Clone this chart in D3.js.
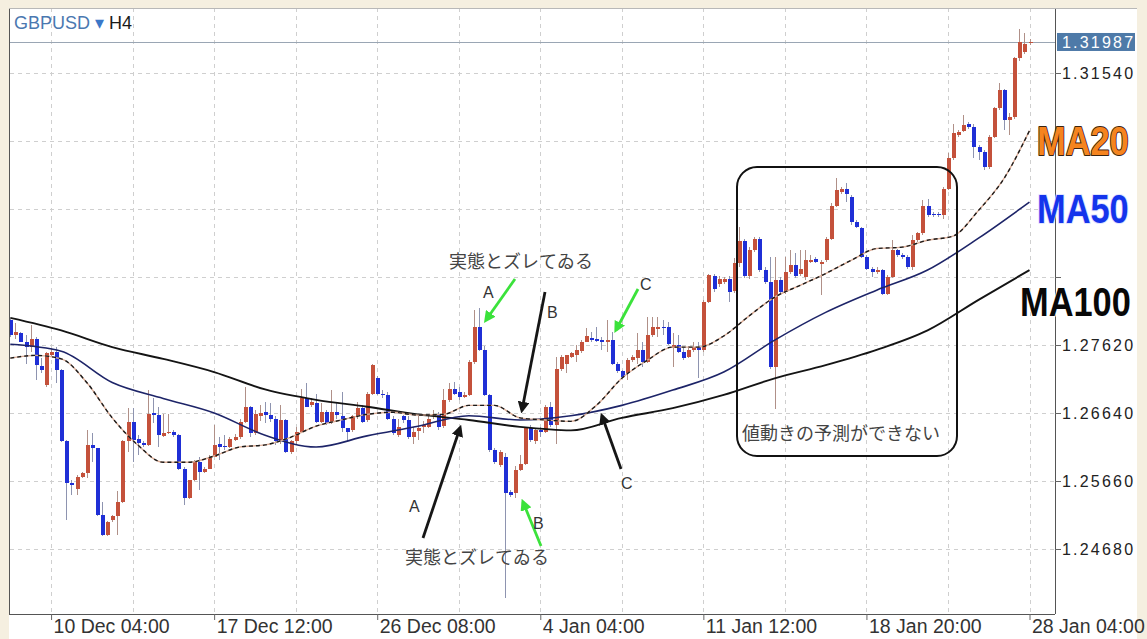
<!DOCTYPE html>
<html>
<head>
<meta charset="utf-8">
<script src="https://d3js.org/d3.v7.min.js"></script>
<style>
  html, body { margin: 0; padding: 0; background: #f5efe0; }
  svg { display: block; }
</style>
</head>
<body>
<div id="chart"></div>
<script>
// GBPUSD H4 candles (bar 0 = left edge)
const opens = [1.2798,1.2777,1.2779,1.2767,1.2759,1.2771,1.2732,1.2704,1.2747,1.2752,1.2726,1.2623,1.2563,1.2555,1.2572,1.2577,1.2618,1.2613,1.2517,1.2488,1.2510,1.2515,1.2536,1.2623,1.2651,1.2626,1.2621,1.2618,1.2664,1.2661,1.2631,1.2635,1.2637,1.2632,1.2584,1.2541,1.2567,1.2594,1.2579,1.2584,1.2601,1.2620,1.2617,1.2615,1.2625,1.2630,1.2651,1.2673,1.2635,1.2660,1.2666,1.2661,1.2656,1.2623,1.2654,1.2608,1.2623,1.2637,1.2685,1.2675,1.2678,1.2651,1.2666,1.2651,1.2666,1.2659,1.2642,1.2639,1.2659,1.2671,1.2654,1.2692,1.2715,1.2692,1.2690,1.2656,1.2632,1.2659,1.2654,1.2630,1.2638,1.2644,1.2644,1.2659,1.2663,1.2645,1.2683,1.2699,1.2694,1.2687,1.2690,1.2738,1.2788,1.2755,1.2690,1.2611,1.2589,1.2601,1.2550,1.2548,1.2582,1.2591,1.2642,1.2623,1.2639,1.2637,1.2673,1.2647,1.2728,1.2735,1.2745,1.2748,1.2754,1.2767,1.2772,1.2771,1.2769,1.2767,1.2769,1.2735,1.2724,1.2721,1.2740,1.2743,1.2755,1.2738,1.2776,1.2785,1.2788,1.2788,1.2757,1.2762,1.2752,1.2745,1.2755,1.2759,1.2755,1.2824,1.2862,1.2850,1.2853,1.2857,1.2840,1.2880,1.2912,1.2862,1.2899,1.2915,1.2870,1.2853,1.2730,1.2855,1.2838,1.2867,1.2877,1.2865,1.2860,1.2882,1.2886,1.2879,1.2884,1.2915,1.2963,1.2983,1.2987,1.2975,1.2939,1.2930,1.2889,1.2872,1.2867,1.2870,1.2836,1.2860,1.2899,1.2891,1.2889,1.2875,1.2913,1.2923,1.2963,1.2951,1.2951,1.2949,1.2987,1.3031,1.3064,1.3071,1.3080,1.3076,1.3047,1.3040,1.3019,1.3062,1.3103,1.3129,1.3086,1.3091,1.3175,1.3184,1.3197]
const highs = [1.2800,1.2793,1.2781,1.2776,1.2791,1.2774,1.2743,1.2752,1.2757,1.2759,1.2728,1.2625,1.2567,1.2575,1.2579,1.2639,1.2635,1.2614,1.2536,1.2509,1.2517,1.2551,1.2625,1.2671,1.2671,1.2632,1.2623,1.2697,1.2685,1.2673,1.2663,1.2663,1.2639,1.2634,1.2586,1.2568,1.2596,1.2601,1.2586,1.2603,1.2647,1.2630,1.2632,1.2630,1.2634,1.2656,1.2702,1.2674,1.2668,1.2676,1.2680,1.2678,1.2659,1.2675,1.2656,1.2625,1.2644,1.2699,1.2707,1.2685,1.2692,1.2678,1.2668,1.2697,1.2678,1.2694,1.2643,1.2661,1.2680,1.2675,1.2694,1.2735,1.2717,1.2697,1.2694,1.2659,1.2656,1.2661,1.2659,1.2644,1.2659,1.2652,1.2659,1.2668,1.2666,1.2698,1.2707,1.2709,1.2701,1.2694,1.2740,1.2812,1.2815,1.2760,1.2692,1.2613,1.2611,1.2606,1.2553,1.2587,1.2603,1.2644,1.2647,1.2642,1.2644,1.2676,1.2680,1.2745,1.2748,1.2748,1.2752,1.2762,1.2769,1.2786,1.2781,1.2788,1.2774,1.2798,1.2781,1.2738,1.2726,1.2743,1.2747,1.2779,1.2767,1.2803,1.2803,1.2803,1.2798,1.2795,1.2779,1.2776,1.2759,1.2760,1.2767,1.2767,1.2827,1.2865,1.2865,1.2862,1.2860,1.2862,1.2888,1.2932,1.2915,1.2903,1.2918,1.2918,1.2875,1.2889,1.2889,1.2860,1.2889,1.2899,1.2894,1.2899,1.2899,1.2891,1.2889,1.2884,1.2918,1.2966,1.3002,1.2990,1.2995,1.2978,1.2942,1.2932,1.2891,1.2875,1.2874,1.2872,1.2863,1.2913,1.2901,1.2894,1.2891,1.2920,1.2925,1.2971,1.2973,1.2954,1.2954,1.2990,1.3038,1.3081,1.3072,1.3093,1.3083,1.3081,1.3050,1.3043,1.3064,1.3105,1.3139,1.3131,1.3096,1.3177,1.3218,1.3211,1.3203]
const lows = [1.2774,1.2771,1.2766,1.2735,1.2752,1.2711,1.2721,1.2702,1.2745,1.2707,1.2622,1.2510,1.2546,1.2546,1.2571,1.2570,1.2594,1.2516,1.2487,1.2487,1.2507,1.2488,1.2535,1.2608,1.2594,1.2603,1.2615,1.2617,1.2649,1.2615,1.2629,1.2634,1.2630,1.2582,1.2531,1.2540,1.2566,1.2553,1.2578,1.2583,1.2600,1.2596,1.2611,1.2614,1.2624,1.2627,1.2650,1.2630,1.2632,1.2652,1.2649,1.2651,1.2618,1.2620,1.2606,1.2605,1.2620,1.2635,1.2672,1.2672,1.2649,1.2649,1.2646,1.2648,1.2656,1.2637,1.2623,1.2637,1.2656,1.2649,1.2651,1.2690,1.2690,1.2685,1.2654,1.2632,1.2630,1.2649,1.2627,1.2620,1.2625,1.2635,1.2642,1.2656,1.2640,1.2643,1.2680,1.2690,1.2683,1.2685,1.2688,1.2735,1.2753,1.2688,1.2608,1.2591,1.2586,1.2397,1.2543,1.2541,1.2580,1.2589,1.2622,1.2620,1.2630,1.2635,1.2644,1.2620,1.2725,1.2722,1.2743,1.2738,1.2750,1.2766,1.2767,1.2767,1.2755,1.2752,1.2733,1.2721,1.2714,1.2711,1.2738,1.2735,1.2731,1.2736,1.2774,1.2774,1.2776,1.2762,1.2731,1.2750,1.2740,1.2743,1.2752,1.2714,1.2752,1.2822,1.2838,1.2845,1.2850,1.2824,1.2837,1.2875,1.2858,1.2857,1.2896,1.2867,1.2850,1.2728,1.2670,1.2835,1.2836,1.2865,1.2858,1.2862,1.2856,1.2880,1.2880,1.2834,1.2882,1.2913,1.2961,1.2980,1.2968,1.2935,1.2930,1.2887,1.2870,1.2860,1.2864,1.2834,1.2834,1.2858,1.2889,1.2886,1.2872,1.2870,1.2910,1.2920,1.2947,1.2946,1.2946,1.2944,1.2985,1.3029,1.3062,1.3069,1.3074,1.3031,1.3028,1.3014,1.3016,1.3060,1.3100,1.3072,1.3064,1.3088,1.3172,1.3182,1.3195]
const closes = [1.2776,1.2781,1.2767,1.2759,1.2771,1.2733,1.2726,1.2750,1.2752,1.2726,1.2623,1.2563,1.2560,1.2572,1.2577,1.2618,1.2613,1.2517,1.2488,1.2507,1.2515,1.2536,1.2623,1.2651,1.2625,1.2621,1.2618,1.2663,1.2661,1.2632,1.2635,1.2637,1.2632,1.2584,1.2541,1.2567,1.2594,1.2579,1.2584,1.2601,1.2618,1.2615,1.2615,1.2627,1.2630,1.2651,1.2673,1.2635,1.2663,1.2664,1.2661,1.2656,1.2623,1.2654,1.2608,1.2623,1.2637,1.2685,1.2673,1.2680,1.2651,1.2666,1.2649,1.2666,1.2661,1.2642,1.2637,1.2659,1.2671,1.2651,1.2692,1.2733,1.2692,1.2690,1.2656,1.2635,1.2644,1.2654,1.2630,1.2637,1.2642,1.2646,1.2656,1.2663,1.2644,1.2683,1.2699,1.2692,1.2687,1.2690,1.2738,1.2788,1.2755,1.2690,1.2611,1.2594,1.2608,1.2548,1.2546,1.2582,1.2591,1.2642,1.2625,1.2639,1.2637,1.2673,1.2647,1.2728,1.2745,1.2747,1.2750,1.2755,1.2767,1.2775,1.2771,1.2768,1.2767,1.2769,1.2735,1.2724,1.2716,1.2740,1.2744,1.2755,1.2738,1.2776,1.2788,1.2788,1.2786,1.2764,1.2762,1.2752,1.2743,1.2755,1.2759,1.2755,1.2824,1.2863,1.2842,1.2857,1.2857,1.2838,1.2880,1.2912,1.2862,1.2899,1.2915,1.2870,1.2853,1.2730,1.2855,1.2838,1.2867,1.2877,1.2862,1.2872,1.2884,1.2885,1.2882,1.2882,1.2915,1.2963,1.2985,1.2987,1.2980,1.2939,1.2932,1.2889,1.2872,1.2867,1.2870,1.2836,1.2860,1.2899,1.2891,1.2889,1.2875,1.2913,1.2923,1.2963,1.2949,1.2949,1.2949,1.2987,1.3031,1.3067,1.3069,1.3079,1.3076,1.3047,1.3040,1.3019,1.3062,1.3103,1.3129,1.3086,1.3091,1.3175,1.3199,1.3196,1.31987]

// moving averages (MA20 every 5 bars, MA50 / MA100 every 10 bars)
const ma20 = [1.2743,1.2747,1.2742,1.2708,1.2657,1.2618,1.2593,1.2593,1.2602,1.2615,1.2618,1.2629,1.2645,1.2654,1.2662,1.2665,1.2661,1.2662,1.2675,1.2675,1.2657,1.2654,1.2652,1.2675,1.2714,1.2740,1.2759,1.2759,1.2775,1.2804,1.2831,1.2848,1.2865,1.2884,1.2901,1.2903,1.2913,1.2919,1.2956,1.3002,1.3071]
const ma50 = [1.2763,1.2753,1.2708,1.2685,1.2664,1.2632,1.2615,1.2631,1.2645,1.2660,1.2654,1.2660,1.2675,1.2697,1.2723,1.2769,1.2809,1.2841,1.2870,1.2916,1.2968]
const ma100 = [1.2801,1.2783,1.2759,1.2742,1.2723,1.2698,1.2683,1.2673,1.2662,1.2654,1.2644,1.2639,1.2657,1.2671,1.2690,1.2714,1.2733,1.2755,1.2783,1.2827,1.2870]

const priceTicks = [1.24680, 1.25660, 1.26640, 1.27620, 1.28600, 1.29580, 1.30560, 1.31540]
const timeTickBars = [8, 40, 72, 104, 136, 168, 200]
const timeTickLabels = ["10 Dec 04:00", "17 Dec 12:00", "26 Dec 08:00", "4 Jan 04:00", "11 Jan 12:00", "18 Jan 20:00", "28 Jan 04:00"]
const lastPrice = 1.31987

// MA name badges pasted over the price scale (each sits on one price level)
const badgeNames = ["MA20", "MA50", "MA100"]
const badgeLevels = [1.30560, 1.29580, 1.28600]

function drawChart() {
  const dimensions = {
    width: 1147,
    height: 639,
    margin: { top: 8, right: 92, bottom: 25, left: 10 },
  }
  dimensions.plotRight = dimensions.width - dimensions.margin.right
  dimensions.plotBottom = dimensions.height - dimensions.margin.bottom

  const wrapper = d3.select("#chart")
    .append("svg")
      .attr("width", dimensions.width)
      .attr("height", dimensions.height)

  // panel
  wrapper.append("rect")
    .attr("x", 9).attr("y", 8)
    .attr("width", 1128).attr("height", 631)
    .attr("fill", "#ffffff")

  const candles = d3.range(opens.length).map(i => ({
    i, o: opens[i], h: highs[i], l: lows[i], c: closes[i]
  }))

  // scales
  const xScale = d3.scaleLinear()
    .domain([0, candles.length - 1])
    .range([10.3, 1029.5])
  const yScale = d3.scaleLinear()
    .domain([1.2468, 1.3154])
    .range([549, 73])

  // grid
  const grid = wrapper.append("g")
    .attr("stroke", "#cfcfcf")
    .attr("stroke-dasharray", "4,4")
    .attr("shape-rendering", "crispEdges")
  grid.selectAll(".h").data(priceTicks).join("line")
    .attr("x1", dimensions.margin.left).attr("x2", dimensions.plotRight)
    .attr("y1", d => Math.round(yScale(d)) + 0.5).attr("y2", d => Math.round(yScale(d)) + 0.5)
  grid.selectAll(".v").data(d3.range(8, candles.length, 16)).join("line")
    .attr("x1", d => Math.round(xScale(d)) + 0.5).attr("x2", d => Math.round(xScale(d)) + 0.5)
    .attr("y1", dimensions.margin.top).attr("y2", dimensions.plotBottom)

  // current price line
  wrapper.append("line")
    .attr("x1", dimensions.margin.left).attr("x2", dimensions.plotRight)
    .attr("y1", Math.round(yScale(lastPrice)) + 0.5).attr("y2", Math.round(yScale(lastPrice)) + 0.5)
    .attr("stroke", "#9aa6b4").attr("stroke-width", 1.2)

  // candles
  const bodyW = 4
  const cg = wrapper.append("g").attr("shape-rendering", "crispEdges")
  const bars = cg.selectAll("g").data(candles).join("g")
  bars.append("line")
    .attr("x1", d => Math.round(xScale(d.i)) + 0.5)
    .attr("x2", d => Math.round(xScale(d.i)) + 0.5)
    .attr("y1", d => yScale(Math.max(d.h, d.o, d.c)))
    .attr("y2", d => yScale(Math.min(d.l, d.o, d.c)))
    .attr("stroke", d => d.c >= d.o ? "#b09088" : "#8e94b0")
    .attr("stroke-width", 1)
  bars.append("rect")
    .attr("x", d => Math.round(xScale(d.i)) + 0.5 - bodyW / 2)
    .attr("width", bodyW)
    .attr("y", d => yScale(Math.max(d.o, d.c)))
    .attr("height", d => Math.max(1.5, Math.abs(yScale(d.o) - yScale(d.c))))
    .attr("fill", d => d.c >= d.o ? "#c4513b" : "#1f2fd6")

  // moving averages
  const maLine = step => d3.line()
    .x((d, k) => xScale(k * step))
    .y(d => yScale(d))
    .curve(d3.curveMonotoneX)

  wrapper.append("path").datum(ma100)
    .attr("d", maLine(10))
    .attr("fill", "none").attr("stroke", "#141414").attr("stroke-width", 1.9)
  wrapper.append("path").datum(ma50)
    .attr("d", maLine(10))
    .attr("fill", "none").attr("stroke", "#1d2468").attr("stroke-width", 1.6)
  wrapper.append("path").datum(ma20)
    .attr("d", maLine(5))
    .attr("fill", "none").attr("stroke", "#dcae98").attr("stroke-width", 1.4)
  wrapper.append("path").datum(ma20)
    .attr("d", maLine(5))
    .attr("fill", "none").attr("stroke", "#1a1a1a").attr("stroke-width", 1.4)
    .attr("stroke-dasharray", "4,3")

  // frame
  const frame = wrapper.append("g").attr("stroke", "#555").attr("shape-rendering", "crispEdges")
  frame.append("line").attr("x1", 9.5).attr("x2", 9.5).attr("y1", 8).attr("y2", dimensions.plotBottom)
  frame.append("line").attr("x1", 9).attr("x2", dimensions.plotRight).attr("y1", dimensions.plotBottom + 0.5).attr("y2", dimensions.plotBottom + 0.5)
  frame.append("line").attr("x1", dimensions.plotRight + 0.5).attr("x2", dimensions.plotRight + 0.5).attr("y1", 8).attr("y2", dimensions.plotBottom)
  frame.append("line").attr("x1", 9).attr("x2", 1137).attr("y1", 8.5).attr("y2", 8.5).attr("stroke", "#b8b8b8")

  // axes (price labels under the badges are hidden, as in the screenshot)
  const fmt = d3.format(".5f")
  const yAxisGenerator = d3.axisRight(yScale)
    .tickValues(priceTicks)
    .tickFormat(d => badgeLevels.includes(d) ? "" : fmt(d))
    .tickSize(6)
    .tickSizeOuter(0)
  const yAxis = wrapper.append("g")
    .attr("transform", `translate(${dimensions.plotRight},0)`)
    .call(yAxisGenerator)
  yAxis.select(".domain").remove()
  yAxis.selectAll("line").attr("stroke", "#666")
  yAxis.selectAll("text")
    .attr("x", 7)
    .style("font-family", "'Liberation Sans', Arial, sans-serif")
    .style("font-size", "16px")
    .style("letter-spacing", "2.2px")
    .attr("fill", "#222")

  const xAxisGenerator = d3.axisBottom(xScale)
    .tickValues(timeTickBars)
    .tickFormat((d, i) => timeTickLabels[i])
    .tickSize(6)
    .tickSizeOuter(0)
  const xAxis = wrapper.append("g")
    .attr("transform", `translate(0,${dimensions.plotBottom})`)
    .call(xAxisGenerator)
  xAxis.select(".domain").remove()
  xAxis.selectAll("line").attr("stroke", "#666")
  xAxis.selectAll("text")
    .attr("text-anchor", "start")
    .attr("x", 2)
    .attr("y", 5)
    .style("font-family", "'Liberation Sans', Arial, sans-serif")
    .style("font-size", "19.5px")
    .attr("fill", "#333")

  // last price box
  const ly = yScale(lastPrice)
  wrapper.append("rect")
    .attr("x", 1057).attr("y", ly - 9)
    .attr("width", 78).attr("height", 18)
    .attr("fill", "#4e7aa8")
  wrapper.append("text")
    .attr("x", 1062).attr("y", ly + 6)
    .text(fmt(lastPrice))
    .style("font-family", "'Liberation Sans', Arial, sans-serif")
    .style("font-size", "16px")
    .style("letter-spacing", "2.2px")
    .attr("fill", "#ffffff")

  // header
  const header = wrapper.append("text")
    .attr("x", 14).attr("y", 29)
    .style("font-family", "'Liberation Sans', Arial, sans-serif")
    .style("font-size", "18px")
  header.append("tspan").text("GBPUSD").attr("fill", "#4a78b0")
  header.append("tspan").text(" ▾ ").attr("fill", "#3b78c8")
  header.append("tspan").text("H4").attr("fill", "#1a1a1a")

  // MA name badges
  const badgeStyle = [
    { fill: "#f5841f", stroke: "#3a2410", x: 1037, dy: 0 },
    { fill: "#1434ec", stroke: "#dfe4ff", x: 1037, dy: 0 },
    { fill: "#080808", stroke: "#ffffff", x: 1020, dy: 25 },
  ]
  badgeNames.forEach((name, k) => {
    const s = badgeStyle[k]
    wrapper.append("text")
      .attr("transform", `translate(${s.x},${yScale(badgeLevels[k]) + s.dy + 14}) scale(0.86,1)`)
      .text(name)
      .style("font-family", "'Liberation Sans', Arial, sans-serif")
      .style("font-weight", "bold")
      .style("font-size", "40px")
      .attr("fill", s.fill)
      .attr("stroke", s.stroke)
      .attr("stroke-width", 2)
      .attr("paint-order", "stroke")
      .attr("stroke-linejoin", "round")
  })

  // annotations (overlay drawn on the screenshot)
  const defs = wrapper.append("defs")
  const arrowColours = { green: "#3be23b", black: "#161616" }
  Object.entries(arrowColours).forEach(([key, col]) => {
    defs.append("marker")
      .attr("id", "head-" + key)
      .attr("viewBox", "0 0 10 10")
      .attr("refX", 7).attr("refY", 5)
      .attr("markerWidth", 4.2).attr("markerHeight", 4.2)
      .attr("orient", "auto")
      .append("path").attr("d", "M0,0 L10,5 L0,10 z").attr("fill", col)
  })
  const arrows = [
    { c: "green", x1: 515, y1: 279, x2: 486, y2: 320 },
    { c: "black", x1: 545, y1: 292, x2: 522, y2: 410 },
    { c: "green", x1: 638, y1: 289, x2: 616, y2: 330 },
    { c: "black", x1: 423, y1: 538, x2: 460, y2: 428 },
    { c: "green", x1: 541, y1: 546, x2: 523, y2: 502 },
    { c: "black", x1: 621, y1: 469, x2: 602, y2: 416 },
  ]
  wrapper.append("g").selectAll("line").data(arrows).join("line")
    .attr("x1", d => d.x1).attr("y1", d => d.y1)
    .attr("x2", d => d.x2).attr("y2", d => d.y2)
    .attr("stroke", d => arrowColours[d.c])
    .attr("stroke-width", 2.8)
    .attr("marker-end", d => `url(#head-${d.c})`)

  const letters = [
    { t: "A", x: 483, y: 298 }, { t: "B", x: 547, y: 318 }, { t: "C", x: 640, y: 290 },
    { t: "A", x: 409, y: 512 }, { t: "B", x: 533, y: 529 }, { t: "C", x: 621, y: 489 },
  ]
  wrapper.append("g").selectAll("text").data(letters).join("text")
    .attr("x", d => d.x).attr("y", d => d.y)
    .text(d => d.t)
    .style("font-family", "'Liberation Sans', Arial, sans-serif")
    .style("font-size", "16px")
    .attr("fill", "#333")

  const notes = [
    { t: "実態とズレてゐる", x: 449, y: 268 },
    { t: "実態とズレてゐる", x: 405, y: 564 },
    { t: "値動きの予測ができない", x: 742, y: 440 },
  ]
  wrapper.append("g").selectAll("text").data(notes).join("text")
    .attr("x", d => d.x).attr("y", d => d.y)
    .text(d => d.t)
    .style("font-family", "'Noto Sans CJK JP', sans-serif")
    .style("font-size", "18px")
    .attr("fill", "#444")

  wrapper.append("rect")
    .attr("x", 737).attr("y", 167)
    .attr("width", 220).attr("height", 289)
    .attr("rx", 20)
    .attr("fill", "none").attr("stroke", "#111").attr("stroke-width", 2)
}
drawChart()
</script>
</body>
</html>
